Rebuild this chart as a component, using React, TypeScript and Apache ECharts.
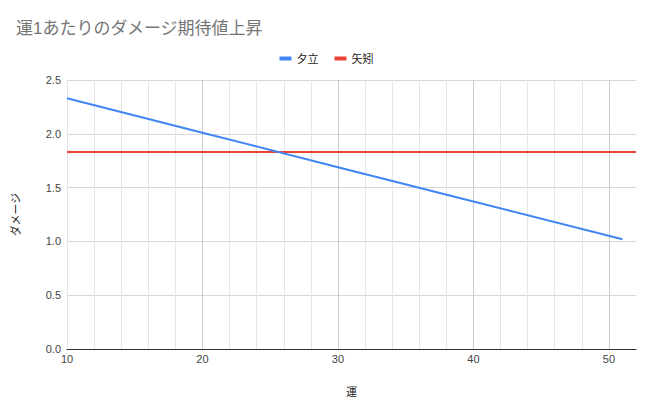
import React, { useEffect, useRef } from "react";
import * as echarts from "echarts";

const title = "運1あたりのダメージ期待値上昇";
const seriesNames = ["夕立", "矢矧"];
const yudachiX = [10, 20, 30, 40, 51];
const yudachiY = [2.33, 2.01, 1.69, 1.37, 1.02];
const yahagiX = [10, 52];
const yahagiY = [1.83, 1.83];
const xName = "運";
const yName = "ダメージ";

const FONT = "'Liberation Sans', Arial, 'Noto Sans CJK JP', sans-serif";

export default function App() {
  const ref = useRef<HTMLDivElement>(null);
  useEffect(() => {
    document.body.style.margin = "0";
    const chart = echarts.init(ref.current!, null, { renderer: "svg" });
    chart.setOption({
      animation: false,
      backgroundColor: "#ffffff",
      textStyle: { fontFamily: FONT },
      title: {
        text: title,
        left: 11,
        top: 15,
        textStyle: { fontSize: 17, fontWeight: "normal", color: "#757575", fontFamily: FONT },
      },
      legend: {
        top: 48,
        left: "center",
        itemWidth: 12,
        itemHeight: 4,
        itemGap: 16,
        icon: "rect",
        textStyle: { fontSize: 11, color: "#222", fontFamily: FONT },
        data: seriesNames,
      },
      grid: { left: 67, right: 17, top: 80, bottom: 63, containLabel: false },
      xAxis: [
        {
          type: "value",
          min: 10,
          max: 52,
          interval: 2,
          name: xName,
          nameLocation: "middle",
          nameGap: 37,
          nameTextStyle: { fontSize: 11, color: "#222", fontFamily: FONT },
          axisLine: { show: true, lineStyle: { color: "#333", width: 1 } },
          axisTick: { show: false },
          axisLabel: {
            fontSize: 11,
            color: "#444",
            margin: 4,
            formatter: (v: number) => (v % 10 === 0 ? String(v) : ""),
          },
          splitLine: { show: true, showMaxLine: false, lineStyle: { color: "#e6e6e6", width: 1 } },
        },
        {
          type: "value",
          min: 10,
          max: 52,
          interval: 10,
          position: "bottom",
          axisLine: { show: false },
          axisTick: { show: false },
          axisLabel: { show: false },
          splitLine: { show: true, showMaxLine: false, showMinLine: false, lineStyle: { color: "#cccccc", width: 1 } },
        },
      ],
      yAxis: {
        type: "value",
        min: 0,
        max: 2.5,
        interval: 0.5,
        name: yName,
        nameLocation: "middle",
        nameGap: 46,
        nameRotate: 90,
        nameTextStyle: { fontSize: 11, color: "#222", fontFamily: FONT },
        axisLine: { show: false },
        axisTick: { show: false },
        axisLabel: {
          fontSize: 11,
          color: "#444",
          margin: 6,
          formatter: (v: number) => v.toFixed(1),
        },
        splitLine: { show: true, lineStyle: { color: "#d9d9d9", width: 1 } },
      },
      series: [
        {
          name: seriesNames[0],
          type: "line",
          xAxisIndex: 0,
          data: yudachiX.map((x, i) => [x, yudachiY[i]]),
          showSymbol: false,
          symbol: "none",
          lineStyle: { color: "#4285f4", width: 2 },
          itemStyle: { color: "#4285f4" },
          z: 3,
        },
        {
          name: seriesNames[1],
          type: "line",
          xAxisIndex: 0,
          data: yahagiX.map((x, i) => [x, yahagiY[i]]),
          showSymbol: false,
          symbol: "none",
          lineStyle: { color: "#ea4335", width: 2 },
          itemStyle: { color: "#ea4335" },
          z: 2,
        },
      ],
    });
    return () => chart.dispose();
  }, []);
  return <div ref={ref} style={{ width: 653, height: 412 }} />;
}
